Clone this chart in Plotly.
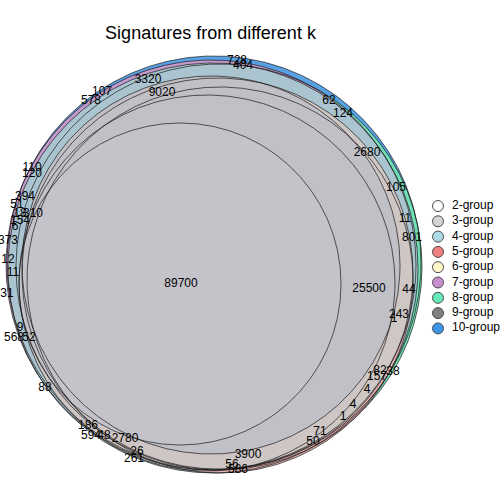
import numpy as np
import plotly.graph_objects as go

# ---- data (diagram coordinates, origin at diagram centre, y up) ----
groups = ["2-group", "3-group", "4-group", "5-group", "6-group",
          "7-group", "8-group", "9-group", "10-group"]
legend_colors = ["#FFFFFF", "#D3D3D3", "#ADD8E6", "#F08080", "#FFF8C8",
                 "#C88ED0", "#66E8B8", "#808080", "#3C96E6"]

# circles drawn from back to front: group, centre x, centre y, radius, region fill
circle_group = ["10-group", "8-group", "7-group", "4-group",
                "5-group", "6-group", "3-group", "9-group", "2-group"]
circle_cx = [0, 5, -3, -1, 6, 3.5, -7, -3, -34]
circle_cy = [3, -1, 1, -2, -14, -7.5, -17, 1, -18]
circle_r = [207, 203, 205, 205, 193, 195.5, 188, 189, 161]
circle_fill = ["#58A2E4", "#72E0B6", "#C39ACB", "#AAC5D0",
               "#E6B2B2", "#CFC7C4", "#CDC6C4", "#C1C0C7", "#C4C3C9"]

label_text = ["89700", "25500", "9020", "3320", "3900", "2780", "2680", "801",
              "728", "404", "578", "107", "110", "120", "394", "51", "18", "310",
              "154", "6", "373", "12", "11", "31", "9", "568", "52", "88", "186",
              "594", "48", "26", "261", "62", "124", "105", "11", "44", "243", "1",
              "82", "38", "157", "4", "4", "1", "71", "50", "56", "586"]
label_x = [-33, 155, -52, -66, 34, -89, 153, 198,
           23, 29, -123, -112, -182, -182, -189, -197, -194, -181,
           -194, -199, -206, -206, -201, -207, -194, -200, -185, -169, -126,
           -123, -110, -77, -80, 115, 129, 182, 191, 195, 185, 180,
           166, 179, 163, 153, 139, 129, 106, 99, 18, 24]
label_y = [-18, -23, 173, 186, -189, -173, 113, 28,
           205, 200, 165, 174, 98, 92, 69, 61, 52, 52,
           45, 39, 25, 6, -7, -28, -62, -72, -72, -122, -160,
           -170, -170, -186, -193, 165, 152, 78, 47, -24, -49, -53,
           -105, -106, -111, -124, -139, -151, -166, -176, -199, -204]

title_text = "Signatures from different k"

# ---- figure ----
fig = go.Figure()
theta = np.linspace(0, 2 * np.pi, 721)

for g, cx, cy, r, fc in zip(circle_group, circle_cx, circle_cy, circle_r, circle_fill):
    fig.add_trace(go.Scatter(
        x=cx + r * np.cos(theta), y=cy + r * np.sin(theta),
        mode="lines", fill="toself", fillcolor=fc,
        line=dict(width=0), hoverinfo="skip", showlegend=False, name=g))

for g, cx, cy, r in zip(circle_group, circle_cx, circle_cy, circle_r):
    fig.add_trace(go.Scatter(
        x=cx + r * np.cos(theta), y=cy + r * np.sin(theta),
        mode="lines", line=dict(color="#1A1A1A", width=0.7),
        hoverinfo="skip", showlegend=False))

fig.add_trace(go.Scatter(
    x=label_x, y=label_y, text=label_text, mode="text",
    textfont=dict(family="Liberation Sans, Arial, sans-serif", size=12, color="black"),
    textposition="middle center", showlegend=False, hoverinfo="skip"))

# legend drawn as marks at the right of the diagram
n = len(groups)
leg_x = [224] * n
leg_y = [60 - 15.3 * i for i in range(n)]
fig.add_trace(go.Scatter(
    x=leg_x, y=leg_y, mode="markers",
    marker=dict(size=11, color=legend_colors, line=dict(color="#4D4D4D", width=1)),
    showlegend=False, hoverinfo="skip"))
fig.add_trace(go.Scatter(
    x=[x + 14 for x in leg_x], y=leg_y, mode="text", text=groups,
    textposition="middle right",
    textfont=dict(family="Liberation Sans, Arial, sans-serif", size=12, color="black"),
    showlegend=False, hoverinfo="skip"))

fig.update_layout(
    width=504, height=504,
    margin=dict(l=0, r=0, t=0, b=0),
    paper_bgcolor="white", plot_bgcolor="white",
    xaxis=dict(range=[-214, 290], visible=False, fixedrange=True),
    yaxis=dict(range=[-238, 266], visible=False, fixedrange=True),
    title=dict(text=title_text, x=210.5 / 504, xanchor="center",
               y=1 - 33 / 504, yanchor="middle",
               font=dict(family="Liberation Sans, Arial, sans-serif", size=18, color="black")),
)

fig.write_html("out.html", config={"displayModeBar": False},
               post_script="document.body.style.margin='0';")
